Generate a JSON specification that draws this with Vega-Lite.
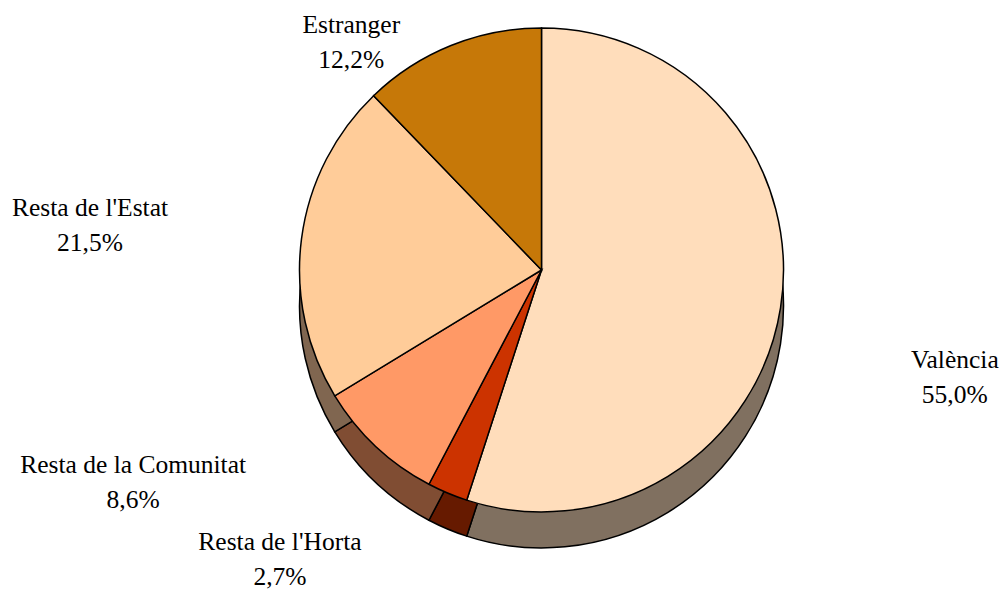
{
  "$schema": "https://vega.github.io/schema/vega-lite/v6.json",
  "width": 923,
  "height": 540,
  "autosize": {"type": "none"},
  "padding": {"left": 80, "top": 0, "right": 0, "bottom": 54},
  "background": "white",
  "config": {"view": {"stroke": null}},
  "data": {
    "values": [
      {"cat": "València", "value": 55.0, "order": 1, "label": "València\n55,0%"},
      {"cat": "Resta de l'Horta", "value": 2.7, "order": 2, "label": "Resta de l'Horta\n2,7%"},
      {"cat": "Resta de la Comunitat", "value": 8.6, "order": 3, "label": "Resta de la Comunitat\n8,6%"},
      {"cat": "Resta de l'Estat", "value": 21.5, "order": 4, "label": "Resta de l'Estat\n21,5%"},
      {"cat": "Estranger", "value": 12.2, "order": 5, "label": "Estranger\n12,2%"}
    ]
  },
  "encoding": {
    "theta": {"field": "value", "type": "quantitative", "stack": true},
    "order": {"field": "order", "type": "quantitative"}
  },
  "layer": [
    {
      "mark": {"type": "arc", "outerRadius": 242, "yOffset": 36, "stroke": "black", "strokeWidth": 1.5},
      "encoding": {
        "color": {
          "field": "cat", "type": "nominal", "legend": null,
          "scale": {
            "domain": ["València", "Resta de l'Horta", "Resta de la Comunitat", "Resta de l'Estat", "Estranger"],
            "range": ["#807060", "#661A00", "#804D33", "#806650", "#634004"]
          }
        }
      }
    },
    {
      "mark": {"type": "arc", "outerRadius": 242, "stroke": "black", "strokeWidth": 1.5},
      "encoding": {
        "color": {
          "field": "cat", "type": "nominal", "legend": null,
          "scale": {
            "domain": ["València", "Resta de l'Horta", "Resta de la Comunitat", "Resta de l'Estat", "Estranger"],
            "range": ["#FFDDBB", "#CC3300", "#FF9966", "#FFCC99", "#C67808"]
          }
        }
      }
    },
    {
      "mark": {"type": "text", "radius": 300, "dx": 117, "dy": 43, "font": "Liberation Serif", "fontSize": 25.5, "lineBreak": "\n", "lineHeight": 35, "align": "center", "baseline": "middle", "color": "black"},
      "encoding": {"text": {"condition": {"test": "datum.cat === 'València'", "field": "label"}, "value": ""}}
    },
    {
      "mark": {"type": "text", "radius": 300, "dx": -145, "dy": -4, "font": "Liberation Serif", "fontSize": 25.5, "lineBreak": "\n", "lineHeight": 35, "align": "center", "baseline": "middle", "color": "black"},
      "encoding": {"text": {"condition": {"test": "datum.cat === \"Resta de l'Horta\"", "field": "label"}, "value": ""}}
    },
    {
      "mark": {"type": "text", "radius": 300, "dx": -203, "dy": -24, "font": "Liberation Serif", "fontSize": 25.5, "lineBreak": "\n", "lineHeight": 35, "align": "center", "baseline": "middle", "color": "black"},
      "encoding": {"text": {"condition": {"test": "datum.cat === 'Resta de la Comunitat'", "field": "label"}, "value": ""}}
    },
    {
      "mark": {"type": "text", "radius": 300, "dx": -154, "dy": -23, "font": "Liberation Serif", "fontSize": 25.5, "lineBreak": "\n", "lineHeight": 35, "align": "center", "baseline": "middle", "color": "black"},
      "encoding": {"text": {"condition": {"test": "datum.cat === \"Resta de l'Estat\"", "field": "label"}, "value": ""}}
    },
    {
      "mark": {"type": "text", "radius": 300, "dx": -78, "dy": 33, "font": "Liberation Serif", "fontSize": 25.5, "lineBreak": "\n", "lineHeight": 35, "align": "center", "baseline": "middle", "color": "black"},
      "encoding": {"text": {"condition": {"test": "datum.cat === 'Estranger'", "field": "label"}, "value": ""}}
    }
  ],
  "resolve": {"scale": {"color": "independent"}}
}
